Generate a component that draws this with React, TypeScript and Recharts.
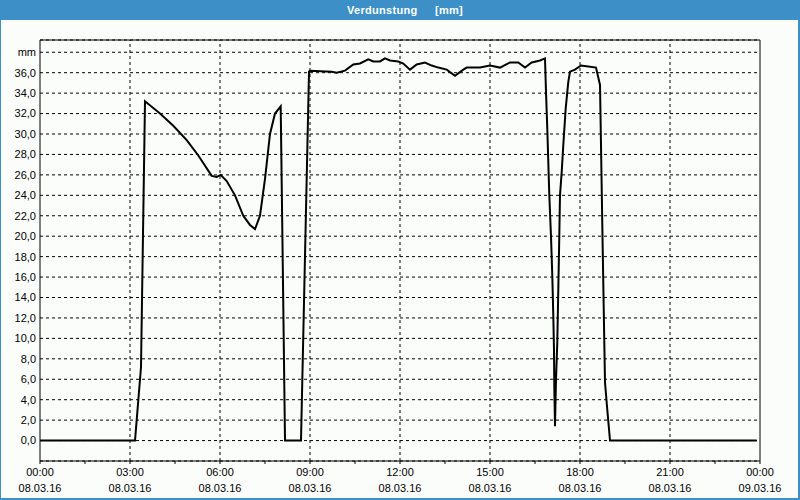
import React from 'react';
import { LineChart, Line, XAxis, YAxis, CartesianGrid, ReferenceLine } from 'recharts';

const hours: number[] = [
  0, 3.167, 3.367, 3.5, 4.0, 4.443, 4.89, 5.277, 5.723, 5.89, 6.023, 6.223, 6.5, 6.777, 7.0, 7.167,
  7.333, 7.5, 7.667, 7.833, 8.023, 8.08, 8.167, 8.7, 8.967, 9.0, 9.723, 9.89, 10.167, 10.443, 10.667,
  10.943, 11.11, 11.333, 11.5, 11.667, 11.943, 12.11, 12.333, 12.557, 12.833, 13.057, 13.277, 13.557,
  13.833, 14.11, 14.223, 14.667, 15.0, 15.333, 15.667, 15.943, 16.167, 16.39, 16.667, 16.833, 16.867,
  16.91, 16.977, 17.033, 17.077, 17.11, 17.133, 17.143, 17.167, 17.2, 17.243, 17.31, 17.333, 17.39,
  17.443, 17.523, 17.61, 17.667, 17.833, 18.033, 18.277, 18.533, 18.667, 18.7, 18.757, 18.833, 18.91,
  19.0, 23.89,
];

const values: number[] = [
  0, 0, 7.2, 33.2, 32.0, 30.8, 29.4, 27.9, 25.9, 25.8, 26.0, 25.4, 24.0, 22.0, 21.1, 20.7,
  22.0, 25.6, 30.0, 32.0, 32.7, 20.0, 0, 0, 36.1, 36.2, 36.1, 36.0, 36.2, 36.8, 36.9,
  37.3, 37.1, 37.1, 37.4, 37.2, 37.1, 36.9, 36.3, 36.8, 37.0, 36.7, 36.5, 36.3,
  35.7, 36.3, 36.5, 36.5, 36.7, 36.5, 37.0, 37.0, 36.5, 37.0, 37.2, 37.4, 34.1,
  30.5, 24.0, 20.0, 16.1, 12.2, 8.9, 5.3, 1.4, 6.0, 9.6, 20.0, 24.0, 26.3,
  28.9, 32.5, 35.1, 36.1, 36.3, 36.7, 36.6, 36.5, 34.8, 28.9, 18.7, 5.7, 3.0,
  0, 0,
];

const xTicks: number[] = [0, 1.5, 3, 4.5, 6, 7.5, 9, 10.5, 12, 13.5, 15, 16.5, 18, 19.5, 21, 22.5, 24];
const majorHours: number[] = [3, 6, 9, 12, 15, 18, 21];
const timeLabels: string[] = ['00:00', '03:00', '06:00', '09:00', '12:00', '15:00', '18:00', '21:00', '00:00'];
const dateLabels: string[] = ['08.03.16', '08.03.16', '08.03.16', '08.03.16', '08.03.16', '08.03.16', '08.03.16', '08.03.16', '09.03.16'];
const yTicks: number[] = [0, 2, 4, 6, 8, 10, 12, 14, 16, 18, 20, 22, 24, 26, 28, 30, 32, 34, 36, 38];

const data = hours.map((h, i) => ({ h, v: values[i] }));

const FONT = '"Liberation Sans", Arial, sans-serif';
const BLUE = '#3c8fc7';

const XTick = (props: any) => {
  const { x, y, payload } = props;
  const val = payload.value as number;
  if (Math.abs(val / 3 - Math.round(val / 3)) > 1e-6) return null;
  const idx = Math.round(val / 3);
  return (
    <g>
      <text x={x} y={y + 10} textAnchor="middle" fontSize={11} fontFamily={FONT} fill="#000">
        {timeLabels[idx]}
      </text>
      <text x={x} y={y + 26} textAnchor="middle" fontSize={11} fontFamily={FONT} fill="#000">
        {dateLabels[idx]}
      </text>
    </g>
  );
};

const titleStyle: React.CSSProperties = {
  position: 'absolute',
  top: 0,
  color: '#fff',
  fontFamily: FONT,
  fontWeight: 'bold',
  fontSize: 11,
  letterSpacing: 0.3,
  lineHeight: '20px',
  whiteSpace: 'pre',
};

export default function App() {
  return (
    <div
      style={{
        position: 'absolute',
        left: 0,
        top: 0,
        width: 800,
        height: 500,
        background: '#fbfdfb',
        boxSizing: 'border-box',
        borderLeft: `1px solid ${BLUE}`,
        borderRight: `2px solid ${BLUE}`,
        borderBottom: `2px solid ${BLUE}`,
        overflow: 'hidden',
      }}
    >
      <div style={{ position: 'absolute', left: -1, top: 0, width: 800, height: 20, background: BLUE }}>
        <span style={{ ...titleStyle, left: 347 }}>Verdunstung</span>
        <span style={{ ...titleStyle, left: 435 }}>[mm]</span>
      </div>
      <div style={{ position: 'absolute', left: -1, top: 0 }}>
        <LineChart width={800} height={500} data={data} margin={{ top: 40, right: 40, bottom: 0, left: 0 }}>
          <CartesianGrid vertical={false} stroke="#000" strokeDasharray="3 3" />
          {majorHours.map((h) => (
            <ReferenceLine key={h} x={h} stroke="#000" strokeDasharray="3 3" />
          ))}
          <ReferenceLine x={24} stroke="#000" />
          <ReferenceLine y={39.2} stroke="#000" />
          <XAxis
            dataKey="h"
            type="number"
            domain={[0, 24]}
            ticks={xTicks}
            interval={0}
            height={39}
            tickSize={3}
            tickMargin={2}
            stroke="#000"
            tick={<XTick />}
            allowDataOverflow
          />
          <YAxis
            type="number"
            domain={[-2, 39.2]}
            ticks={yTicks}
            interval={0}
            width={40}
            tickLine={false}
            tickSize={0}
            tickMargin={4}
            stroke="#000"
            allowDataOverflow
            tick={{ fontSize: 11, fontFamily: FONT, fill: '#000' }}
            tickFormatter={(v: number) => (v === 38 ? 'mm' : v.toFixed(1).replace('.', ','))}
          />
          <Line
            type="linear"
            dataKey="v"
            stroke="#000"
            strokeWidth={2}
            dot={false}
            isAnimationActive={false}
          />
        </LineChart>
      </div>
    </div>
  );
}
